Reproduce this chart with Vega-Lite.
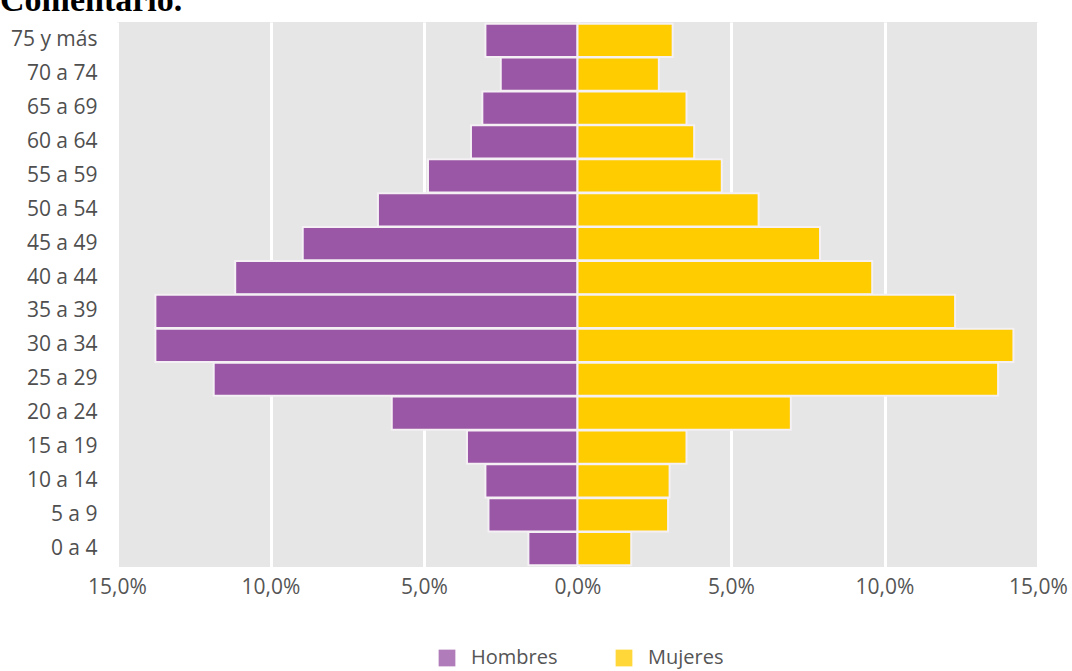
{
  "$schema": "https://vega.github.io/schema/vega-lite/v6.json",
  "width": 921,
  "height": 545,
  "autosize": {"type": "none"},
  "padding": {"left": 117, "top": 22, "right": 34, "bottom": 104},
  "background": "white",
  "title": {
    "text": "Comentario.",
    "anchor": "start",
    "frame": "group",
    "dx": -117,
    "dy": 31,
    "offset": 8,
    "baseline": "alphabetic",
    "font": "Liberation Serif",
    "fontSize": 34,
    "fontWeight": "bold",
    "color": "#000000"
  },
  "data": {
    "values": [
      {"age": "75 y más", "sex": "Hombres", "value": -3.0},
      {"age": "70 a 74", "sex": "Hombres", "value": -2.5},
      {"age": "65 a 69", "sex": "Hombres", "value": -3.1},
      {"age": "60 a 64", "sex": "Hombres", "value": -3.47},
      {"age": "55 a 59", "sex": "Hombres", "value": -4.87},
      {"age": "50 a 54", "sex": "Hombres", "value": -6.5},
      {"age": "45 a 49", "sex": "Hombres", "value": -8.95},
      {"age": "40 a 44", "sex": "Hombres", "value": -11.15},
      {"age": "35 a 39", "sex": "Hombres", "value": -13.75},
      {"age": "30 a 34", "sex": "Hombres", "value": -13.75},
      {"age": "25 a 29", "sex": "Hombres", "value": -11.85},
      {"age": "20 a 24", "sex": "Hombres", "value": -6.05},
      {"age": "15 a 19", "sex": "Hombres", "value": -3.6},
      {"age": "10 a 14", "sex": "Hombres", "value": -3.0},
      {"age": "5 a 9", "sex": "Hombres", "value": -2.9},
      {"age": "0 a 4", "sex": "Hombres", "value": -1.6},
      {"age": "75 y más", "sex": "Mujeres", "value": 3.1},
      {"age": "70 a 74", "sex": "Mujeres", "value": 2.65},
      {"age": "65 a 69", "sex": "Mujeres", "value": 3.55},
      {"age": "60 a 64", "sex": "Mujeres", "value": 3.8},
      {"age": "55 a 59", "sex": "Mujeres", "value": 4.7},
      {"age": "50 a 54", "sex": "Mujeres", "value": 5.9},
      {"age": "45 a 49", "sex": "Mujeres", "value": 7.9},
      {"age": "40 a 44", "sex": "Mujeres", "value": 9.6},
      {"age": "35 a 39", "sex": "Mujeres", "value": 12.3},
      {"age": "30 a 34", "sex": "Mujeres", "value": 14.2},
      {"age": "25 a 29", "sex": "Mujeres", "value": 13.7},
      {"age": "20 a 24", "sex": "Mujeres", "value": 6.95},
      {"age": "15 a 19", "sex": "Mujeres", "value": 3.55},
      {"age": "10 a 14", "sex": "Mujeres", "value": 3.0},
      {"age": "5 a 9", "sex": "Mujeres", "value": 2.95},
      {"age": "0 a 4", "sex": "Mujeres", "value": 1.75}
    ]
  },
  "mark": {"type": "bar", "stroke": "#f4f0f4", "strokeWidth": 2},
  "encoding": {
    "y": {
      "field": "age",
      "type": "nominal",
      "sort": ["75 y más", "70 a 74", "65 a 69", "60 a 64", "55 a 59", "50 a 54", "45 a 49", "40 a 44", "35 a 39", "30 a 34", "25 a 29", "20 a 24", "15 a 19", "10 a 14", "5 a 9", "0 a 4"],
      "scale": {"paddingInner": 0.02, "paddingOuter": 0.05},
      "axis": {
        "title": null,
        "domain": false,
        "ticks": false,
        "labelPadding": 20,
        "labelFont": "Open Sans",
        "labelFontSize": 21,
        "labelColor": "#4f4f4f"
      }
    },
    "x": {
      "field": "value",
      "type": "quantitative",
      "scale": {"domain": [-15, 15], "nice": false},
      "axis": {
        "title": null,
        "values": [-15, -10, -5, 0, 5, 10, 15],
        "domain": false,
        "ticks": false,
        "grid": true,
        "gridColor": "#ffffff",
        "gridWidth": 3,
        "labelFlush": false,
        "labelPadding": 9,
        "labelFont": "Open Sans",
        "labelFontSize": 21,
        "labelColor": "#555555",
        "labelExpr": "replace(format(abs(datum.value), '.1f'), '.', ',') + '%'"
      }
    },
    "color": {
      "field": "sex",
      "type": "nominal",
      "scale": {"domain": ["Hombres", "Mujeres"], "range": ["#9a57a6", "#ffcc00"]},
      "legend": {
        "title": null,
        "orient": "none",
        "direction": "horizontal",
        "legendX": 320,
        "legendY": 626,
        "symbolType": "square",
        "symbolSize": 280,
        "symbolStrokeWidth": 0,
        "symbolOpacity": 0.78,
        "columnPadding": 56,
        "labelFont": "Open Sans",
        "labelFontSize": 20,
        "labelColor": "#555555",
        "labelOffset": 14
      }
    }
  },
  "config": {
    "view": {"fill": "#e6e6e6", "stroke": null}
  }
}
